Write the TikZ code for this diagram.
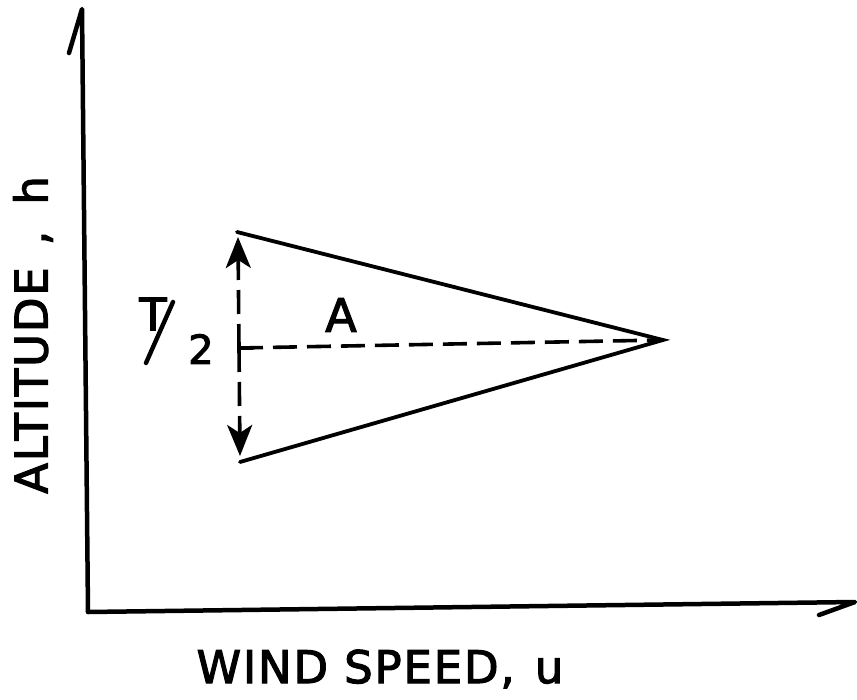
\documentclass[tikz,border=0pt]{standalone}
\usepackage{fontspec}
\setmainfont{DejaVu Sans}
\newfontfamily\lett[FakeBold=2.5]{DejaVu Sans}
\newfontfamily\lettsp[FakeBold=2.5,LetterSpace=4]{DejaVu Sans}
\usetikzlibrary{arrows.meta}
\begin{document}
\begin{tikzpicture}[x=1pt,y=-1pt,
  axisline/.style={line width=4.5pt,line cap=round,line join=round},
  edge/.style={line width=3.8pt,line cap=round},
  dashline/.style={line width=3.6pt,dash pattern=on 24pt off 10pt},
  arrowtip/.style={-{Stealth[length=31pt,width=25pt,inset=8pt]}},
  lbl/.style={inner sep=0pt,font=\lettsp\fontsize{45}{50}\selectfont}]
\useasboundingbox (0,0) rectangle (857,700);
% axes
\coordinate (O) at (88,612);
\coordinate (ytip) at (82,9);
\coordinate (ybarb) at (69,53);
\coordinate (xtip) at (855,602);
\coordinate (xbarb) at (819,615);
\draw[axisline] (O) -- (ytip) -- (ybarb);
\draw[axisline] (O) -- (xtip) -- (xbarb);
% triangle
\coordinate (top) at (237,232);
\coordinate (bot) at (240,462);
\coordinate (apex) at (663,340);
\draw[edge] (top) -- (apex) -- (bot);
% dimension arrow
\coordinate (mid) at (239,348);
\coordinate (atop) at (238,237);
\coordinate (abot) at (240,456);
\draw[dashline,arrowtip] (mid) -- (atop);
\draw[dashline,arrowtip] (mid) -- (abot);
\draw[dashline] (mid) -- (apex);
\draw[line width=3.6pt] (mid) -- ++(14,0);
% labels
\node[inner sep=0pt,font=\lett\fontsize{45}{48}\selectfont] (T) at (153,314) {T};
\coordinate (s1) at (146,363);
\coordinate (s2) at (173,302);
\draw[line width=4.4pt,line cap=round] (s1) -- (s2);
\node[inner sep=0pt,font=\lett\fontsize{40}{44}\selectfont] (two) at (201,349) {2};
\node[inner sep=0pt,font=\lett\fontsize{46}{50}\selectfont] (A) at (341,315) {A};
\node[lbl] (xl) at (380,669) {WIND SPEED,\hspace{4pt} u};
\node[lbl,rotate=90] (yl) at (33,335) {ALTITUDE\hspace{6pt} ,\hspace{10pt} h};
\end{tikzpicture}
\end{document}
